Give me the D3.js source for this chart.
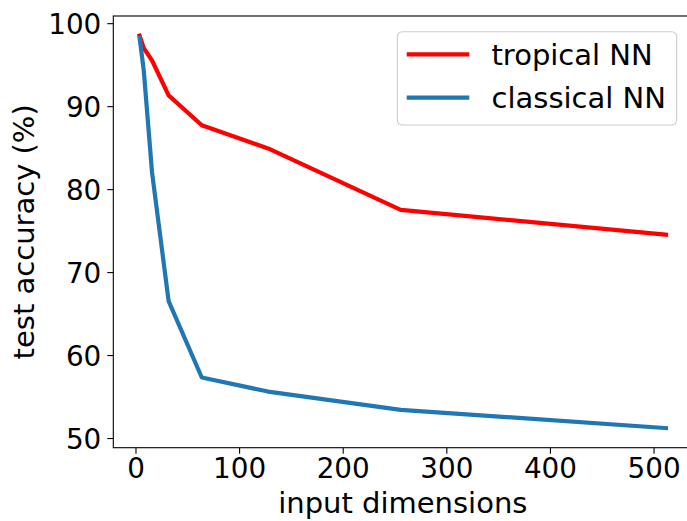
<!DOCTYPE html>
<html><head><meta charset="utf-8">
<script src="https://cdn.jsdelivr.net/npm/d3@7"></script>
<style>body{margin:0;background:#fff}svg{display:block}text{font-family:"DejaVu Sans",sans-serif;fill:#000}</style>
</head><body>
<script>
const dims = [4, 8, 16, 32, 64, 128, 256, 512];
const tropical = [98.5, 97.0, 95.5, 91.3, 87.7, 84.9, 77.5, 74.5];
const classical = [98.2, 94.3, 82.0, 66.5, 57.3, 55.6, 53.4, 51.2];
const seriesNames = ["tropical NN", "classical NN"];
const seriesColors = ["#ff0000", "#1f77b4"];
const xTicks = [0, 100, 200, 300, 400, 500];
const yTicks = [50, 60, 70, 80, 90, 100];

const W = 687, H = 521;
const svg = d3.select("body").append("svg").attr("width", W).attr("height", H);
const L = 113.3, R = 692.3, T = 16, B = 447.7;
const xr = [d3.min(dims), d3.max(dims)], xm = (xr[1]-xr[0])*0.05;
const allY = tropical.concat(classical);
const yr = [d3.min(allY), d3.max(allY)], ym = (yr[1]-yr[0])*0.05;
const x = d3.scaleLinear().domain([xr[0]-xm, xr[1]+xm]).range([L, R]);
const y = d3.scaleLinear().domain([yr[0]-ym, yr[1]+ym]).range([B, T]);

const fs = 27.8, fl = 29;
const xa = svg.append("g").attr("transform", `translate(0,${B})`)
  .call(d3.axisBottom(x).tickValues(xTicks).tickSize(6).tickPadding(5).tickFormat(d3.format("d")));
const ya = svg.append("g").attr("transform", `translate(${L},0)`)
  .call(d3.axisLeft(y).tickValues(yTicks).tickSize(6).tickPadding(6).tickFormat(d3.format("d")));
[xa, ya].forEach(a => {
  a.select(".domain").remove();
  a.selectAll(".tick line").attr("stroke", "#000").attr("stroke-width", 1.1);
  a.selectAll(".tick text").attr("font-size", fs).attr("font-family", "DejaVu Sans").attr("fill", "#000");
});
xa.selectAll(".tick text").attr("dy", "0.71em");
ya.selectAll(".tick text").attr("dy", "0.36em");

const line = d3.line().x((d, i) => x(dims[i])).y(d => y(d));
[tropical, classical].forEach((s, k) => {
  svg.append("path").datum(s).attr("d", line).attr("fill", "none")
    .attr("stroke", seriesColors[k]).attr("stroke-width", 4.2)
    .attr("stroke-linejoin", "round").attr("stroke-linecap", "square");
});

svg.append("rect").attr("x", L).attr("y", T).attr("width", R - L).attr("height", B - T)
  .attr("fill", "none").attr("stroke", "#000").attr("stroke-width", 1.1);

svg.append("text").attr("x", (L + R) / 2).attr("y", 513).attr("text-anchor", "middle")
  .attr("font-size", fl).text("input dimensions");
svg.append("text").attr("transform", `translate(34,${(T + B) / 2}) rotate(-90)`)
  .attr("text-anchor", "middle").attr("font-size", fl).text("test accuracy (%)");

const lg = svg.append("g");
lg.append("rect").attr("x", 397.3).attr("y", 31.7).attr("width", 279.4).attr("height", 93.3)
  .attr("rx", 5).attr("fill", "#fff").attr("fill-opacity", 0.8).attr("stroke", "#ccc").attr("stroke-width", 1.1);
seriesNames.forEach((n, k) => {
  const yy = 54.3 + k * 43.4;
  lg.append("line").attr("x1", 406.7).attr("x2", 469.3).attr("y1", yy).attr("y2", yy)
    .attr("stroke", seriesColors[k]).attr("stroke-width", 4.2);
  lg.append("text").attr("x", 491.5).attr("y", yy).attr("dy", "0.36em").attr("font-size", fl).text(n);
});
</script>
</body></html>
